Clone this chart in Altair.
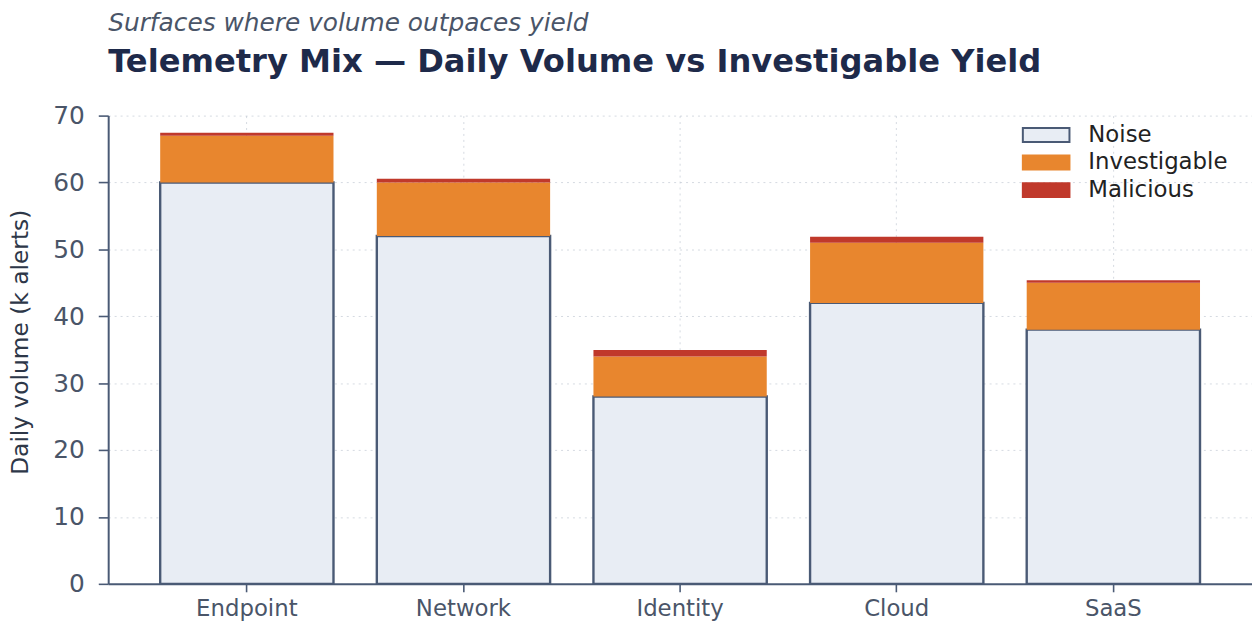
import altair as alt
import pandas as pd

surfaces = ["Endpoint", "Network", "Identity", "Cloud", "SaaS"]
noise = [60, 52, 28, 42, 38]
investigable = [7, 8, 6, 9, 7]
malicious = [0.45, 0.55, 0.95, 0.9, 0.4]

categories = ["Noise", "Investigable", "Malicious"]
fill_colors = ["#e8edf4", "#e8862e", "#c0392b"]
stroke_colors = ["#4a5a75", "#e8862e", "#c0392b"]
y_ticks = [0, 10, 20, 30, 40, 50, 60, 70]

rows = []
for i, s in enumerate(surfaces):
    vals = [noise[i], investigable[i], malicious[i]]
    for j, c in enumerate(categories):
        rows.append({"surface": s, "category": c, "value": vals[j], "order": j})
df = pd.DataFrame(rows)

legend_cfg = dict(
    title=None,
    orient="none",
    legendX=934,
    legendY=8,
    padding=0,
    symbolType="M-2.35,-0.7H2.35V0.7H-2.35Z",
    symbolSize=400,
    symbolStrokeWidth=2,
    labelOffset=31,
    labelFontSize=23,
    labelColor="#222222",
    rowPadding=3.8,
)

chart = alt.Chart(df).mark_bar().encode(
    x=alt.X(
        "surface:N",
        sort=surfaces,
        scale=alt.Scale(paddingInner=0.2, paddingOuter=0.24),
        axis=alt.Axis(title=None, labelAngle=0, labelFontSize=23, labelPadding=6,
                      tickSize=8, grid=True, bandPosition=0.5),
    ),
    y=alt.Y(
        "value:Q",
        stack="zero",
        scale=alt.Scale(domain=[0, 70], nice=False),
        axis=alt.Axis(values=y_ticks, title="Daily volume (k alerts)", labelFontSize=25,
                      labelPadding=14, tickSize=10, titleFontSize=23.5, titlePadding=21,
                      titleY=228, titleColor="#2d3748", titleFontWeight="normal"),
    ),
    color=alt.Color("category:N", scale=alt.Scale(domain=categories, range=fill_colors),
                    legend=alt.Legend(**legend_cfg)),
    stroke=alt.Stroke("category:N", scale=alt.Scale(domain=categories, range=stroke_colors),
                      legend=alt.Legend(**legend_cfg)),
    strokeWidth=alt.condition("datum.category == 'Noise'", alt.value(2.4), alt.value(0)),
    order=alt.Order("order:Q"),
).properties(
    width=1153,
    height=472,
    padding=0,
    title=alt.Title(
        text="Surfaces where volume outpaces yield",
        subtitle="Telemetry Mix — Daily Volume vs Investigable Yield",
        anchor="start",
        frame="group",
        font="DejaVu Sans",
        fontSize=25,
        fontStyle="italic",
        fontWeight="normal",
        color="#4a5568",
        subtitleFont="DejaVu Sans",
        subtitleFontSize=32.4,
        subtitleFontWeight="bold",
        subtitleColor="#1e2a4a",
        subtitlePadding=10,
        offset=26,
    ),
).configure(
    font="DejaVu Sans",
).configure_view(
    stroke=None,
).configure_axis(
    domainColor="#4a5a75",
    domainWidth=2,
    tickColor="#4a5a75",
    tickWidth=1.6,
    labelColor="#4a5568",
    labelFont="DejaVu Sans",
    titleFont="DejaVu Sans",
    gridColor="#b8c0cc",
    gridOpacity=0.6,
    gridDash=[2, 4],
    gridWidth=1,
    zindex=1,
)

chart.save("out.html", embed_options={"renderer": "svg", "actions": False})
